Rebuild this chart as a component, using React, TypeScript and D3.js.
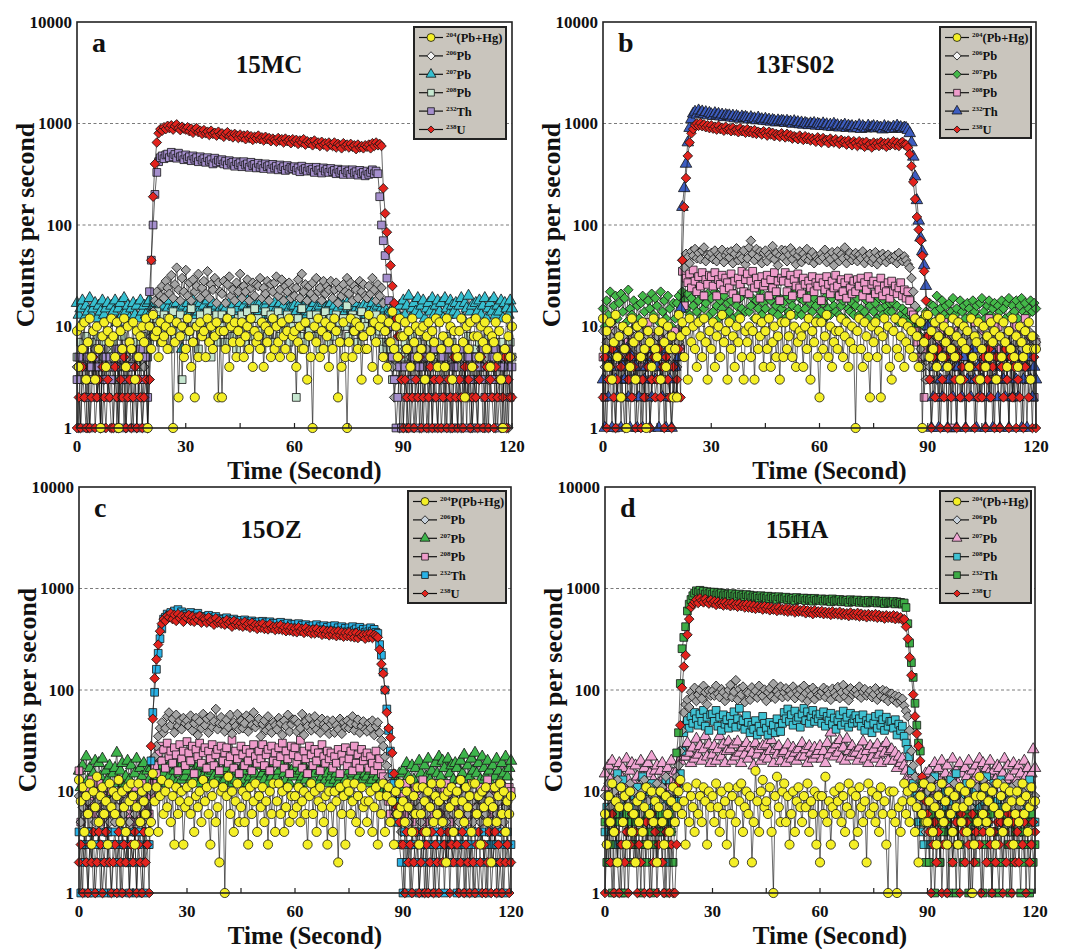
import React from "react";
import * as d3 from "d3";

// time axis: one reading every 0.5 s, 0..120 s (241 readings per series)
const seconds = d3.range(0, 120.5, 0.5);
const yTickValues = [1, 10, 100, 1000, 10000];
const xTickValues = [0, 30, 60, 90, 120];
const xMinorTicks = [0, 15, 30, 45, 60, 75, 90, 105, 120];
const gridValues = [10, 100, 1000];

// ---- a : 15MC ----
const mc204 = [
  9, 4, 10, 6, 11, 3, 7, 12, 5, 9, 3, 10, 6, 1, 8, 11, 4, 9, 7, 12,
  8, 5, 11, 1, 9, 6, 12, 4, 10, 7, 6, 11, 3, 9, 5, 8, 10, 7, 12, 1,
  10, 6, 13, 8, 9, 5, 11, 7, 8, 10, 6, 12, 9, 1, 7, 11, 2, 8, 10, 5,
  6, 12, 9, 4, 7, 2, 10, 5, 11, 8, 9, 5, 12, 7, 10, 6, 8, 11, 2, 9,
  2, 9, 6, 12, 4, 10, 7, 11, 5, 9, 7, 11, 5, 8, 10, 6, 12, 4, 9, 7,
  8, 6, 11, 4, 10, 7, 9, 5, 12, 6, 10, 7, 5, 11, 8, 6, 9, 12, 5, 8,
  9, 4, 7, 10, 6, 6, 11, 3, 8, 5, 1, 10, 7, 12, 5, 9, 6, 11, 8, 4,
  10, 6, 12, 9, 2, 7, 4, 11, 5, 1, 7, 12, 5, 9, 11, 6, 10, 3, 8, 6,
  6, 13, 9, 4, 11, 7, 3, 10, 12, 5, 9, 4, 11, 7, 14, 6, 10, 5, 12, 8,
  8, 11, 6, 9, 4, 12, 7, 10, 5, 9, 6, 10, 3, 8, 11, 5, 9, 7, 12, 4,
  11, 6, 8, 4, 12, 7, 10, 3, 9, 6, 5, 9, 12, 7, 2, 10, 6, 11, 4, 8,
  12, 8, 5, 10, 7, 11, 6, 9, 4, 8, 7, 11, 5, 9, 3, 1, 6, 12, 8, 5,
  10,
];
const mc206 = [
  4, 1, 5, 3, 6, 2, 1, 4, 5, 3, 6, 2, 4, 1, 5, 3, 6, 4, 2, 5,
  3, 5, 1, 4, 2, 6, 3, 1, 5, 4, 2, 6, 4, 1, 3, 5, 2, 4, 6, 1,
  3, 8, 14, 18, 22, 17, 20, 25, 19, 28, 24, 21, 32, 19, 26, 38, 23, 18, 30, 22,
  36, 20, 27, 18, 29, 22, 25, 33, 19, 24, 28, 21, 35, 19, 26, 23, 30, 17, 27, 22,
  21, 28, 17, 26, 31, 20, 23, 18, 27, 22, 33, 19, 25, 22, 29, 18, 24, 27, 20, 26,
  25, 30, 19, 24, 21, 28, 18, 26, 22, 27, 31, 20, 23, 29, 18, 25, 22, 27, 19, 24,
  20, 24, 29, 19, 33, 22, 26, 18, 25, 21, 27, 19, 30, 22, 24, 18, 28, 21, 25, 23,
  28, 19, 23, 27, 17, 24, 20, 26, 22, 30, 21, 27, 18, 25, 23, 19, 28, 22, 26, 20,
  19, 25, 21, 30, 23, 18, 26, 20, 24, 17, 12, 9, 7, 5, 4, 2, 3, 5, 1, 4,
  3, 6, 1, 4, 5, 2, 6, 3, 4, 1, 5, 2, 4, 6, 1, 3, 5, 2, 4, 6,
  5, 3, 6, 2, 4, 5, 1, 3, 6, 4, 2, 4, 1, 5, 3, 6, 2, 4, 1, 3,
  2, 5, 3, 6, 4, 1, 5, 3, 6, 4, 4, 1, 6, 3, 5, 2, 4, 6, 1, 5,
  5,
];
const mc207 = [
  17, 13, 15, 18, 12, 16, 14, 19, 13, 15, 17, 12, 16, 14, 18, 13, 15, 17, 12, 16,
  14, 18, 11, 15, 17, 13, 19, 14, 16, 12, 15, 17, 13, 16, 12, 18, 14, 16, 13, 17,
  18, 14, 16, 13, 17, 15, 19, 14, 16, 13, 15, 18, 12, 16, 14, 17, 13, 15, 6, 16,
  14, 17, 13, 15, 18, 12, 16, 14, 17, 13, 16, 14, 18, 13, 15, 17, 12, 16, 14, 15,
  13, 16, 15, 12, 17, 14, 16, 13, 15, 18, 17, 13, 16, 14, 18, 12, 15, 17, 13, 16,
  14, 17, 15, 13, 16, 18, 14, 15, 12, 17, 15, 13, 17, 14, 16, 12, 18, 15, 13, 16,
  16, 14, 12, 17, 15, 13, 16, 18, 14, 15, 13, 17, 15, 14, 16, 12, 17, 15, 13, 16,
  17, 14, 16, 13, 15, 18, 12, 16, 14, 17, 15, 13, 16, 14, 17, 12, 15, 13, 16, 14,
  16, 14, 13, 17, 15, 12, 16, 14, 17, 13, 15, 13, 11, 14, 12, 15, 10, 13, 16, 12,
  18, 13, 16, 20, 12, 15, 17, 14, 19, 13, 16, 18, 12, 15, 17, 14, 19, 13, 16, 18,
  14, 17, 12, 19, 15, 13, 18, 16, 14, 17, 13, 16, 19, 12, 17, 15, 20, 14, 16, 12,
  17, 14, 18, 13, 16, 19, 12, 15, 17, 14, 19, 13, 16, 14, 18, 12, 17, 15, 13, 18,
  15,
];
const mc208 = [
  5, 3, 7, 4, 6, 8, 3, 5, 7, 4, 6, 3, 8, 5, 4, 7, 3, 6, 5, 4,
  7, 4, 5, 3, 6, 8, 4, 5, 3, 7, 4, 6, 3, 7, 5, 4, 8, 3, 6, 5,
  7, 9, 12, 8, 14, 10, 7, 11, 13, 9, 12, 6, 10, 14, 8, 11, 9, 13, 3, 10,
  8, 12, 9, 15, 7, 11, 10, 6, 13, 9, 11, 8, 14, 10, 5, 12, 9, 13, 7, 10,
  13, 9, 7, 12, 10, 14, 8, 11, 6, 12, 9, 13, 11, 7, 14, 10, 8, 12, 15, 9,
  12, 9, 6, 11, 14, 8, 10, 13, 7, 11, 10, 14, 8, 12, 9, 11, 13, 7, 10, 12,
  9, 2, 12, 8, 15, 10, 7, 11, 9, 13, 11, 8, 13, 10, 6, 12, 9, 14, 10, 7,
  12, 10, 8, 13, 9, 11, 7, 12, 10, 16, 8, 11, 13, 9, 12, 7, 10, 14, 8, 11,
  10, 12, 9, 11, 8, 13, 10, 9, 7, 6, 5, 7, 4, 6, 3, 5, 4, 6, 3, 5,
  5, 7, 4, 6, 3, 8, 5, 4, 7, 3, 6, 4, 8, 5, 3, 7, 4, 6, 5, 3,
  7, 5, 4, 6, 8, 3, 5, 7, 4, 6, 4, 6, 3, 5, 7, 4, 8, 5, 3, 6,
  5, 3, 7, 4, 6, 5, 3, 8, 4, 6, 3, 6, 5, 4, 7, 3, 5, 6, 4, 7,
  5,
];
const mc232 = [
  3, 5, 1, 4, 6, 2, 5, 1, 4, 3, 5, 2, 4, 6, 1, 3, 5, 2, 4, 3,
  1, 4, 6, 2, 5, 3, 1, 4, 2, 6, 4, 1, 3, 5, 2, 6, 1, 3, 5, 2,
  22, 45, 100, 200, 330, 420, 460, 480, 450, 490, 500, 460, 520, 470, 495, 455, 510, 470, 480, 440,
  490, 450, 470, 430, 480, 445, 460, 420, 470, 435, 450, 415, 460, 425, 440, 400, 455, 410, 435, 420,
  440, 400, 425, 390, 430, 405, 415, 380, 420, 395, 410, 375, 420, 390, 400, 370, 415, 385, 395, 365,
  405, 370, 390, 360, 400, 375, 385, 355, 395, 365, 380, 350, 390, 360, 375, 345, 385, 355, 370, 360,
  375, 345, 365, 335, 380, 350, 360, 340, 370, 345, 355, 330, 370, 345, 350, 325, 365, 340, 355, 330,
  360, 335, 345, 320, 355, 330, 345, 315, 350, 330, 340, 315, 350, 325, 335, 310, 345, 320, 330, 305,
  340, 315, 330, 350, 320, 340, 320, 190, 100, 70, 50, 30, 18, 10, 5, 3, 1, 2, 4, 1,
  1, 4, 2, 6, 1, 3, 5, 1, 2, 4, 6, 1, 3, 5, 2, 4, 1, 6, 3, 1,
  4, 2, 5, 1, 3, 6, 2, 1, 4, 5, 1, 3, 6, 2, 4, 1, 5, 3, 1, 2,
  5, 1, 4, 3, 6, 2, 1, 4, 2, 5, 3, 6, 1, 2, 5, 4, 1, 3, 6, 2,
  4,
];
const mc238 = [
  1, 2, 1, 4, 2, 1, 3, 1, 2, 5, 1, 2, 3, 1, 4, 2, 1, 3, 2, 1,
  1, 4, 2, 1, 3, 2, 5, 1, 2, 3, 1, 2, 4, 1, 3, 2, 1, 2, 3, 1,
  3, 45, 190, 400, 650, 800, 880, 850, 920, 880, 950, 900, 960, 870, 940, 980, 900, 860, 930, 890,
  870, 920, 840, 890, 810, 870, 900, 820, 850, 790, 860, 800, 830, 770, 850, 790, 810, 760, 830, 780,
  800, 740, 790, 820, 750, 780, 730, 790, 760, 720, 780, 730, 760, 700, 770, 720, 750, 690, 740, 710,
  760, 700, 730, 680, 740, 700, 720, 670, 710, 690, 660, 720, 680, 700, 650, 710, 670, 690, 640, 700,
  660, 690, 630, 680, 650, 700, 620, 670, 640, 660, 610, 680, 630, 650, 600, 660, 620, 640, 590, 650,
  620, 600, 650, 580, 630, 610, 570, 640, 600, 620, 580, 630, 590, 610, 560, 620, 580, 600, 570, 610,
  590, 620, 570, 640, 600, 650, 610, 630, 600, 230, 130, 85, 57, 40, 25, 17, 12, 8, 5, 3,
  1, 3, 2, 1, 4, 2, 1, 3, 2, 5, 1, 2, 3, 1, 2, 4, 1, 3, 2, 1,
  3, 1, 2, 4, 1, 3, 2, 1, 5, 2, 1, 3, 2, 1, 4, 2, 3, 1, 2, 4,
  2, 1, 3, 5, 1, 2, 4, 1, 3, 2, 1, 4, 2, 3, 1, 2, 5, 1, 3, 2,
  2,
];

// ---- b : 13FS02 ----
const fs204 = [
  12, 6, 9, 4, 11, 3, 7, 13, 5, 8, 2, 10, 6, 1, 9, 4, 12, 7, 3, 10,
  8, 5, 11, 6, 1, 9, 7, 4, 12, 6, 5, 9, 3, 11, 7, 4, 10, 6, 8, 2,
  6, 2, 13, 8, 11, 5, 9, 3, 12, 7, 10, 6, 4, 11, 8, 5, 12, 7, 3, 9,
  6, 11, 4, 8, 10, 5, 13, 7, 9, 3, 11, 6, 8, 4, 10, 7, 12, 5, 3, 9,
  7, 10, 5, 9, 3, 12, 6, 8, 11, 4, 9, 6, 12, 4, 7, 10, 5, 8, 3, 11,
  5, 11, 6, 8, 13, 5, 10, 4, 7, 9, 8, 4, 10, 6, 12, 3, 9, 7, 11, 5,
  2, 11, 6, 8, 13, 5, 10, 4, 7, 9, 6, 9, 12, 5, 8, 11, 4, 7, 10, 6,
  1, 9, 12, 6, 4, 11, 8, 5, 2, 10, 7, 11, 5, 9, 2, 8, 12, 6, 10, 4,
  3, 9, 12, 6, 5, 8, 11, 4, 7, 10, 6, 9, 5, 12, 8, 4, 11, 1, 7, 13,
  13, 5, 9, 6, 11, 4, 8, 12, 5, 10, 7, 4, 9, 6, 12, 5, 8, 11, 3, 7,
  10, 6, 9, 4, 12, 5, 8, 7, 11, 3, 6, 10, 4, 8, 5, 11, 7, 9, 3, 12,
  8, 5, 11, 7, 4, 9, 6, 12, 5, 8, 4, 10, 7, 5, 9, 6, 11, 3, 8, 6,
  6,
];
const fs206 = [
  9, 4, 7, 5, 8, 3, 6, 9, 2, 7, 5, 8, 4, 6, 9, 3, 7, 5, 8, 2,
  6, 9, 3, 7, 4, 8, 5, 2, 7, 4, 8, 5, 3, 6, 9, 4, 7, 2, 5, 8,
  6, 4, 7, 10, 45, 38, 52, 48, 42, 55, 50, 58, 47, 53, 46, 56, 60, 44, 51, 49,
  53, 46, 56, 44, 51, 49, 57, 43, 50, 54, 48, 55, 42, 52, 59, 45, 50, 47, 56, 41,
  47, 60, 70, 52, 45, 58, 49, 55, 42, 53, 56, 44, 51, 48, 62, 46, 53, 40, 50, 57,
  48, 56, 44, 51, 59, 46, 53, 41, 50, 55, 43, 52, 47, 58, 45, 50, 54, 42, 49, 46,
  45, 52, 48, 57, 43, 50, 46, 54, 40, 49, 55, 44, 51, 47, 60, 42, 49, 53, 45, 50,
  53, 44, 51, 47, 55, 42, 49, 46, 52, 43, 47, 54, 41, 50, 45, 52, 48, 43, 51, 46,
  48, 45, 50, 42, 53, 46, 44, 49, 45, 41, 38, 30, 22, 16, 12, 8, 6, 4, 5, 3,
  8, 4, 7, 5, 9, 3, 6, 8, 4, 7, 5, 9, 3, 6, 8, 4, 7, 5, 9, 2,
  6, 8, 4, 7, 5, 9, 3, 6, 8, 5, 7, 3, 9, 5, 2, 6, 8, 4, 7, 5,
  4, 7, 5, 8, 3, 6, 9, 5, 2, 7, 8, 5, 6, 3, 7, 4, 9, 6, 5, 8,
  7,
];
const fs207 = [
  15, 10, 18, 13, 22, 11, 16, 20, 12, 17, 21, 14, 19, 11, 23, 15, 13, 18, 10, 16,
  12, 17, 20, 14, 9, 18, 15, 21, 13, 19, 16, 11, 22, 14, 18, 12, 20, 15, 10, 17,
  12, 17, 20, 14, 22, 18, 15, 21, 13, 19, 16, 23, 14, 18, 12, 20, 15, 17, 21, 13,
  19, 14, 22, 16, 12, 18, 15, 20, 13, 17, 14, 18, 12, 21, 16, 13, 19, 15, 22, 14,
  21, 14, 16, 19, 12, 18, 15, 22, 13, 17, 15, 20, 12, 18, 14, 21, 16, 13, 19, 15,
  17, 12, 20, 14, 18, 16, 22, 13, 15, 19, 13, 18, 15, 21, 12, 17, 14, 19, 16, 12,
  18, 14, 17, 12, 20, 15, 13, 19, 16, 14, 20, 13, 16, 18, 12, 21, 15, 14, 17, 13,
  16, 19, 13, 15, 22, 14, 18, 12, 16, 20, 14, 17, 12, 19, 15, 13, 18, 16, 14, 17,
  14, 17, 12, 16, 11, 13, 15, 12, 14, 11, 13, 9, 12, 10, 15, 11, 8, 12, 10, 14,
  13, 17, 11, 16, 14, 20, 12, 15, 18, 13, 16, 12, 17, 14, 19, 13, 15, 11, 18, 14,
  16, 12, 17, 15, 13, 18, 14, 16, 12, 17, 19, 14, 12, 16, 18, 13, 15, 17, 11, 16,
  14, 18, 15, 12, 17, 19, 13, 16, 14, 18, 12, 16, 19, 14, 17, 13, 15, 18, 14, 17,
  15,
];
const fs208 = [
  5, 2, 7, 4, 9, 3, 6, 1, 8, 4, 6, 10, 3, 5, 7, 2, 4, 8, 5, 3,
  7, 4, 9, 2, 6, 11, 5, 3, 8, 6, 4, 8, 6, 3, 10, 5, 7, 2, 9, 4,
  9, 5, 7, 6, 35, 16, 30, 27, 33, 24, 36, 28, 22, 31, 25, 34, 20, 29, 26, 32,
  31, 25, 34, 20, 29, 26, 32, 23, 30, 27, 24, 33, 21, 28, 19, 30, 26, 35, 22, 29,
  33, 21, 28, 35, 24, 30, 26, 19, 31, 25, 27, 32, 20, 29, 24, 34, 22, 28, 18, 30,
  28, 34, 22, 27, 32, 20, 29, 25, 33, 24, 21, 30, 26, 19, 28, 24, 31, 22, 27, 25,
  30, 18, 27, 23, 31, 26, 21, 28, 24, 32, 25, 20, 29, 22, 27, 19, 30, 24, 21, 28,
  22, 29, 25, 30, 20, 27, 23, 31, 19, 26, 28, 21, 26, 23, 30, 20, 25, 22, 27, 19,
  28, 22, 25, 21, 24, 27, 20, 23, 19, 22, 18, 14, 13, 9, 7, 5, 4, 6, 2, 5,
  8, 3, 6, 10, 4, 7, 2, 9, 5, 11, 6, 3, 8, 1, 5, 7, 4, 9, 3, 6,
  10, 5, 7, 4, 8, 3, 11, 6, 4, 2, 7, 9, 4, 6, 12, 5, 3, 8, 6, 10,
  5, 8, 3, 7, 4, 9, 6, 2, 10, 5, 7, 4, 9, 5, 12, 6, 3, 8, 5, 2,
  7,
];
const fs232 = [
  3, 1, 5, 2, 4, 1, 6, 3, 2, 5, 1, 4, 3, 6, 2, 1, 5, 3, 4, 1,
  2, 5, 1, 3, 4, 6, 1, 2, 5, 3, 4, 1, 3, 2, 5, 1, 6, 3, 1, 2,
  4, 2, 5, 15, 150, 230, 400, 650, 900, 1100, 1250, 1300, 1220, 1340, 1260, 1310, 1230, 1290, 1200, 1270,
  1230, 1180, 1260, 1200, 1240, 1170, 1220, 1150, 1210, 1180, 1200, 1140, 1190, 1120, 1180, 1150, 1110, 1170, 1130, 1160,
  1130, 1090, 1150, 1100, 1120, 1070, 1140, 1080, 1100, 1060, 1110, 1050, 1090, 1040, 1080, 1060, 1020, 1070, 1030, 1060,
  1050, 1010, 1060, 1020, 1040, 990, 1050, 1000, 1030, 980, 1020, 970, 1010, 990, 960, 1000, 970, 1010, 950, 990,
  975, 940, 1000, 950, 980, 930, 970, 920, 990, 940, 960, 910, 950, 930, 970, 900, 950, 920, 940, 890,
  930, 900, 960, 880, 940, 910, 890, 950, 900, 920, 940, 890, 930, 900, 910, 870, 940, 890, 920, 900,
  880, 930, 890, 950, 900, 920, 880, 910, 900, 860, 800, 650, 470, 300, 175, 110, 75, 55, 40, 25,
  10, 5, 1, 2, 4, 6, 1, 3, 2, 5, 4, 1, 3, 6, 2, 5, 1, 4, 3, 2,
  5, 1, 3, 4, 2, 6, 3, 1, 4, 2, 3, 5, 1, 4, 2, 6, 1, 3, 5, 2,
  1, 4, 3, 2, 5, 1, 6, 2, 4, 3, 2, 5, 1, 3, 4, 1, 5, 3, 2, 4,
  3,
];
const fs238 = [
  2, 5, 1, 3, 4, 6, 2, 1, 3, 5, 4, 2, 1, 6, 3, 5, 2, 4, 1, 3,
  5, 1, 3, 2, 6, 4, 1, 3, 5, 2, 3, 6, 2, 4, 1, 5, 3, 2, 1, 4,
  2, 3, 6, 2, 45, 150, 290, 480, 650, 800, 880, 960, 1000, 950, 1010, 940, 980, 920, 960, 900,
  960, 890, 930, 870, 950, 880, 910, 850, 930, 870, 890, 840, 910, 850, 870, 820, 900, 840, 860, 810,
  880, 820, 850, 800, 860, 790, 830, 810, 780, 840, 800, 760, 830, 780, 810, 750, 790, 770, 740, 800,
  760, 730, 790, 740, 770, 710, 750, 730, 700, 760, 720, 690, 750, 700, 730, 680, 720, 690, 660, 730,
  700, 650, 720, 680, 690, 640, 710, 670, 650, 700, 660, 630, 690, 650, 670, 620, 680, 640, 610, 670,
  640, 600, 670, 620, 650, 590, 660, 610, 630, 580, 650, 610, 640, 600, 660, 620, 640, 590, 650, 610,
  630, 670, 610, 650, 600, 640, 660, 620, 620, 580, 500, 380, 265, 180, 120, 90, 70, 50, 35, 18,
  8, 3, 1, 5, 2, 4, 6, 1, 3, 2, 5, 1, 4, 2, 6, 3, 1, 5, 2, 4,
  3, 1, 6, 2, 4, 5, 1, 3, 2, 4, 2, 5, 1, 3, 6, 2, 4, 1, 5, 3,
  1, 4, 2, 6, 3, 1, 5, 2, 4, 1, 3, 2, 5, 1, 4, 6, 2, 3, 1, 5,
  1,
];

// ---- c : 15OZ ----
const oz204 = [
  13, 8, 11, 4, 9, 6, 12, 3, 10, 7, 14, 5, 9, 11, 6, 8, 3, 12, 7, 10,
  6, 9, 13, 5, 10, 7, 4, 11, 8, 12, 9, 3, 7, 12, 5, 10, 8, 6, 11, 4,
  5, 15, 8, 11, 4, 9, 13, 6, 10, 7, 12, 5, 9, 3, 11, 6, 8, 10, 3, 7,
  11, 8, 6, 12, 4, 9, 7, 10, 5, 13, 8, 11, 6, 3, 9, 12, 5, 7, 2, 10,
  11, 1, 9, 14, 6, 10, 4, 8, 12, 5, 7, 10, 5, 9, 3, 11, 6, 8, 12, 4,
  9, 7, 11, 5, 8, 3, 10, 6, 12, 4, 8, 12, 6, 10, 4, 7, 11, 5, 9, 6,
  9, 7, 11, 5, 8, 10, 6, 3, 9, 12, 6, 10, 4, 8, 11, 7, 5, 9, 3, 10,
  7, 4, 10, 8, 2, 11, 6, 9, 3, 12, 10, 6, 8, 12, 5, 9, 4, 11, 7, 8,
  5, 8, 10, 4, 7, 11, 3, 9, 6, 12, 4, 9, 11, 5, 8, 3, 10, 6, 12, 7,
  8, 5, 10, 7, 13, 4, 9, 6, 11, 3, 6, 11, 8, 4, 10, 7, 12, 5, 9, 6,
  8, 12, 5, 9, 2, 10, 7, 11, 4, 8, 10, 6, 13, 8, 5, 11, 7, 9, 4, 12,
  12, 6, 9, 3, 10, 7, 11, 5, 8, 2, 7, 11, 5, 9, 12, 6, 10, 4, 8, 6,
  9,
];
const oz206 = [
  9, 5, 7, 3, 6, 8, 4, 2, 7, 5, 8, 3, 6, 9, 4, 7, 2, 5, 8, 6,
  5, 7, 4, 10, 3, 6, 8, 2, 5, 9, 4, 6, 9, 3, 7, 5, 2, 8, 6, 4,
  10, 15, 22, 28, 35, 42, 48, 38, 42, 55, 60, 45, 52, 38, 57, 44, 50, 41, 53, 47,
  50, 44, 56, 40, 47, 53, 36, 49, 42, 58, 45, 52, 38, 55, 43, 49, 65, 41, 47, 54,
  46, 39, 51, 43, 57, 37, 48, 44, 58, 41, 50, 42, 47, 56, 39, 52, 45, 60, 43, 48,
  52, 35, 46, 50, 40, 55, 43, 38, 48, 45, 41, 53, 47, 36, 50, 44, 57, 39, 46, 51,
  51, 39, 47, 42, 58, 36, 49, 44, 53, 40, 45, 55, 41, 48, 38, 52, 46, 43, 50, 37,
  46, 50, 38, 45, 41, 52, 37, 48, 43, 50, 42, 47, 55, 40, 46, 51, 38, 44, 49, 41,
  39, 47, 42, 50, 36, 44, 48, 38, 32, 28, 22, 18, 14, 12, 9, 8, 6, 7, 5, 4,
  7, 4, 8, 5, 9, 3, 6, 8, 4, 7, 5, 9, 3, 6, 8, 4, 10, 5, 7, 3,
  6, 9, 4, 7, 5, 10, 3, 8, 6, 4, 8, 5, 3, 7, 9, 4, 6, 2, 8, 5,
  4, 7, 9, 5, 3, 8, 6, 4, 9, 5, 7, 3, 6, 8, 4, 9, 5, 7, 3, 6,
  9,
];
const oz207 = [
  16, 11, 18, 9, 22, 13, 17, 10, 15, 20, 12, 19, 14, 21, 10, 16, 13, 18, 9, 15,
  17, 24, 12, 16, 19, 11, 14, 20, 13, 18, 10, 15, 21, 12, 17, 14, 19, 11, 16, 13,
  17, 12, 19, 14, 16, 13, 18, 15, 12, 17, 14, 19, 13, 16, 12, 18, 15, 13, 17, 14,
  16, 12, 19, 14, 13, 17, 15, 12, 18, 14, 13, 17, 15, 12, 16, 14, 18, 13, 15, 12,
  16, 13, 17, 12, 15, 19, 14, 13, 16, 12, 15, 18, 13, 16, 12, 14, 17, 13, 15, 18,
  18, 14, 15, 13, 17, 12, 16, 14, 19, 13, 14, 16, 12, 18, 15, 13, 17, 12, 16, 14,
  15, 17, 12, 16, 14, 18, 13, 15, 12, 17, 13, 15, 18, 12, 16, 14, 17, 13, 15, 12,
  14, 16, 13, 15, 12, 14, 11, 10, 13, 9, 16, 13, 15, 12, 17, 14, 12, 16, 13, 15,
  14, 12, 16, 13, 15, 11, 14, 12, 13, 10, 12, 10, 13, 9, 11, 14, 10, 12, 15, 11,
  16, 12, 19, 14, 10, 18, 13, 17, 11, 20, 15, 12, 18, 14, 21, 13, 16, 10, 19, 15,
  22, 14, 20, 17, 12, 21, 15, 18, 13, 19, 17, 13, 20, 15, 23, 12, 18, 14, 21, 16,
  24, 15, 19, 13, 22, 17, 14, 20, 16, 12, 18, 14, 21, 16, 13, 19, 15, 22, 14, 17,
  20,
];
const oz208 = [
  16, 5, 9, 7, 11, 4, 8, 13, 6, 10, 7, 12, 5, 9, 6, 11, 4, 8, 10, 6,
  9, 5, 13, 7, 4, 10, 8, 6, 11, 5, 8, 11, 6, 9, 5, 12, 7, 4, 10, 6,
  9, 12, 18, 15, 24, 28, 20, 26, 17, 30, 22, 25, 19, 27, 23, 16, 29, 21, 25, 18,
  31, 24, 20, 28, 15, 26, 22, 30, 19, 24, 27, 17, 25, 21, 29, 18, 23, 26, 16, 28,
  20, 24, 27, 19, 22, 32, 17, 25, 21, 15, 28, 23, 18, 26, 20, 24, 16, 29, 22, 19,
  25, 21, 29, 18, 23, 26, 16, 28, 20, 24, 19, 27, 22, 30, 17, 25, 21, 15, 28, 23,
  27, 19, 22, 32, 17, 25, 21, 15, 28, 23, 18, 26, 20, 24, 16, 29, 22, 19, 25, 21,
  24, 17, 22, 19, 26, 15, 23, 20, 27, 18, 21, 25, 16, 28, 19, 23, 17, 26, 20, 22,
  24, 17, 22, 19, 16, 25, 18, 21, 15, 14, 12, 9, 8, 6, 9, 5, 7, 6, 8, 5,
  9, 6, 12, 7, 10, 5, 8, 11, 6, 9, 7, 13, 5, 10, 8, 6, 11, 9, 7, 12,
  8, 6, 10, 7, 12, 9, 5, 11, 8, 6, 10, 7, 13, 6, 9, 11, 5, 8, 12, 7,
  6, 9, 7, 11, 5, 10, 8, 13, 6, 9, 11, 7, 9, 5, 12, 8, 10, 6, 9, 11,
  10,
];
const oz232 = [
  4, 1, 3, 2, 4, 1, 3, 4, 1, 2, 3, 4, 1, 3, 2, 1, 4, 3, 1, 3,
  4, 2, 3, 1, 4, 3, 2, 4, 1, 3, 2, 4, 1, 3, 4, 2, 1, 4, 3, 3,
  20, 60, 95, 160, 230, 320, 400, 500, 520, 560, 540, 580, 520, 600, 550, 620, 530, 590, 510, 560,
  560, 520, 580, 510, 545, 505, 570, 500, 530, 495, 530, 490, 545, 480, 515, 470, 530, 485, 505, 470,
  495, 465, 515, 455, 490, 450, 500, 460, 480, 445, 485, 450, 490, 440, 470, 435, 480, 445, 465, 430,
  470, 435, 475, 430, 460, 420, 470, 425, 455, 415, 455, 420, 465, 425, 445, 410, 455, 415, 440, 405,
  445, 410, 450, 400, 435, 405, 440, 395, 425, 400, 430, 395, 440, 400, 420, 390, 430, 395, 415, 385,
  425, 390, 430, 385, 410, 380, 420, 385, 405, 375, 410, 380, 420, 385, 400, 370, 415, 380, 395, 370,
  400, 375, 410, 380, 395, 370, 360, 280, 220, 150, 100, 65, 40, 25, 15, 12, 8, 5, 3, 2,
  1, 4, 2, 3, 1, 4, 3, 2, 4, 1, 3, 2, 4, 1, 3, 4, 2, 3, 1, 4,
  2, 3, 4, 1, 3, 2, 4, 3, 2, 4, 1, 3, 2, 4, 3, 1, 4, 2, 3, 1,
  4, 2, 1, 3, 4, 2, 3, 1, 4, 3, 2, 4, 3, 1, 2, 4, 1, 3, 4, 2,
  3,
];
const oz238 = [
  2, 3, 1, 4, 2, 1, 3, 2, 4, 1, 2, 4, 3, 1, 2, 4, 3, 2, 1, 2,
  3, 1, 4, 2, 1, 3, 2, 4, 1, 3, 2, 4, 1, 3, 2, 1, 4, 2, 3, 1,
  28, 52, 130, 200, 280, 380, 450, 500, 480, 540, 520, 570, 500, 550, 480, 560, 510, 540, 470, 530,
  510, 550, 480, 530, 470, 520, 490, 540, 460, 510, 500, 460, 520, 470, 490, 440, 510, 460, 480, 450,
  470, 440, 490, 450, 470, 420, 480, 440, 460, 430, 455, 420, 470, 430, 450, 410, 460, 420, 440, 400,
  440, 410, 450, 400, 430, 395, 445, 405, 420, 390, 425, 395, 435, 390, 415, 380, 420, 385, 410, 375,
  405, 370, 415, 380, 400, 365, 410, 375, 390, 360, 395, 360, 400, 365, 385, 350, 390, 355, 380, 345,
  385, 350, 375, 340, 380, 345, 370, 335, 365, 340, 370, 335, 360, 330, 365, 325, 355, 340, 350, 320,
  355, 330, 360, 325, 350, 340, 330, 250, 180, 145, 100, 60, 42, 34, 24, 15, 10, 7, 5, 3,
  3, 1, 4, 2, 3, 1, 2, 4, 3, 1, 2, 4, 1, 3, 1, 2, 4, 1, 3, 2,
  1, 4, 2, 3, 2, 4, 1, 3, 2, 4, 3, 1, 2, 4, 1, 3, 2, 1, 4, 2,
  1, 3, 4, 2, 1, 3, 1, 2, 4, 1, 2, 4, 1, 3, 2, 1, 4, 2, 3, 1,
  2,
];

// ---- d : 15HA ----
const ha204 = [
  6, 3, 9, 5, 12, 4, 8, 2, 7, 11, 5, 9, 3, 7, 10, 4, 6, 2, 8, 5,
  9, 4, 7, 11, 3, 6, 10, 5, 8, 2, 7, 10, 5, 3, 9, 6, 4, 8, 11, 5,
  7, 10, 13, 6, 8, 3, 11, 5, 9, 7, 4, 12, 6, 9, 5, 11, 8, 3, 10, 7,
  9, 5, 12, 7, 4, 10, 6, 8, 3, 11, 6, 9, 2, 5, 11, 8, 12, 4, 7, 10,
  6, 9, 2, 5, 16, 8, 4, 10, 13, 7, 8, 6, 11, 4, 1, 9, 14, 7, 5, 10,
  12, 5, 9, 3, 6, 10, 4, 8, 11, 7, 5, 9, 7, 12, 4, 8, 6, 10, 3, 9,
  2, 9, 6, 14, 5, 8, 3, 7, 10, 6, 8, 11, 5, 9, 4, 7, 12, 6, 10, 3,
  9, 4, 11, 7, 5, 8, 2, 12, 6, 10, 7, 5, 9, 4, 11, 6, 8, 3, 1, 10,
  6, 10, 5, 1, 7, 4, 8, 12, 6, 10, 5, 8, 11, 4, 7, 2, 9, 6, 12, 5,
  5, 8, 11, 4, 7, 3, 9, 6, 12, 5, 8, 3, 10, 6, 4, 9, 7, 3, 11, 5,
  7, 10, 4, 8, 12, 1, 3, 9, 5, 14, 9, 6, 11, 5, 8, 4, 10, 7, 3, 12,
  6, 9, 4, 11, 7, 5, 10, 8, 3, 6, 10, 5, 8, 12, 6, 9, 4, 7, 11, 8,
  8,
];
const ha206 = [
  9, 5, 12, 7, 4, 10, 6, 13, 8, 5, 11, 7, 9, 4, 12, 6, 10, 8, 5, 9,
  6, 10, 13, 5, 8, 11, 4, 9, 7, 12, 8, 5, 11, 7, 14, 6, 9, 4, 10, 7,
  14, 18, 25, 40, 60, 72, 80, 68, 95, 85, 105, 78, 90, 100, 82, 110, 95, 72, 98, 88,
  98, 88, 110, 92, 85, 102, 95, 78, 88, 100, 112, 85, 96, 125, 80, 102, 90, 108, 76, 95,
  93, 80, 106, 90, 98, 84, 110, 92, 87, 101, 78, 95, 104, 86, 115, 82, 97, 90, 108, 85,
  95, 104, 86, 99, 91, 108, 83, 97, 90, 102, 84, 110, 93, 78, 100, 88, 105, 81, 96, 90,
  88, 96, 105, 85, 99, 92, 80, 103, 94, 87, 107, 83, 95, 112, 86, 98, 79, 104, 90, 96,
  100, 90, 108, 84, 96, 102, 88, 93, 98, 85, 91, 104, 80, 95, 87, 100, 83, 97, 78, 92,
  92, 80, 88, 75, 86, 78, 82, 70, 62, 55, 40, 25, 18, 14, 11, 9, 8, 6, 5, 4,
  10, 6, 13, 8, 4, 11, 7, 9, 5, 12, 8, 6, 10, 4, 9, 12, 7, 5, 11, 8,
  6, 10, 4, 9, 7, 12, 5, 8, 11, 6, 9, 13, 5, 8, 11, 4, 10, 7, 12, 6,
  5, 9, 12, 6, 10, 8, 4, 11, 7, 9, 12, 7, 4, 10, 8, 6, 11, 5, 9, 7,
  9,
];
const ha207 = [
  15, 11, 18, 13, 20, 10, 16, 12, 19, 14, 17, 11, 21, 13, 16, 19, 12, 18, 14, 11,
  20, 14, 17, 12, 19, 15, 22, 13, 16, 18, 12, 16, 19, 14, 11, 17, 13, 20, 15, 12,
  16, 14, 20, 22, 25, 22, 30, 24, 19, 27, 21, 33, 23, 28, 20, 26, 35, 22, 29, 19,
  23, 28, 20, 26, 35, 22, 29, 19, 25, 31, 26, 20, 29, 22, 31, 24, 19, 27, 23, 30,
  21, 27, 24, 18, 30, 23, 26, 20, 28, 22, 29, 21, 25, 32, 19, 26, 23, 28, 20, 24,
  25, 19, 29, 23, 21, 27, 24, 20, 26, 22, 30, 22, 26, 19, 28, 24, 21, 27, 23, 25,
  28, 21, 25, 19, 30, 23, 38, 26, 22, 29, 24, 32, 21, 27, 20, 33, 25, 22, 28, 24,
  24, 20, 27, 23, 31, 21, 25, 19, 28, 22, 26, 21, 29, 23, 19, 27, 24, 30, 20, 25,
  26, 20, 24, 17, 22, 19, 21, 18, 16, 14, 14, 13, 15, 12, 11, 13, 10, 12, 11, 15,
  12, 16, 10, 14, 19, 11, 17, 13, 20, 12, 15, 18, 11, 14, 21, 13, 16, 12, 19, 15,
  11, 17, 14, 20, 12, 16, 13, 18, 15, 21, 14, 19, 12, 17, 15, 20, 11, 16, 13, 18,
  17, 12, 15, 21, 13, 18, 14, 11, 19, 16, 13, 18, 15, 12, 20, 14, 17, 13, 15, 26,
  17,
];
const ha208 = [
  4, 7, 2, 9, 5, 12, 3, 15, 6, 8, 13, 5, 10, 4, 7, 3, 9, 6, 11, 5,
  8, 14, 6, 3, 10, 7, 12, 5, 9, 4, 6, 11, 4, 8, 13, 5, 2, 9, 7, 10,
  8, 12, 15, 25, 38, 45, 50, 42, 55, 47, 60, 52, 45, 58, 49, 63, 44, 54, 40, 57,
  58, 49, 63, 44, 54, 40, 57, 46, 51, 42, 55, 47, 61, 43, 52, 66, 45, 50, 41, 56,
  48, 38, 45, 41, 50, 36, 44, 39, 55, 47, 42, 36, 48, 40, 45, 38, 52, 43, 39, 47,
  60, 52, 65, 49, 57, 45, 62, 50, 54, 43, 58, 66, 50, 61, 47, 55, 63, 49, 57, 52,
  58, 47, 61, 44, 55, 50, 59, 46, 53, 41, 50, 57, 45, 62, 48, 54, 43, 59, 47, 52,
  56, 48, 52, 44, 57, 40, 50, 46, 53, 38, 47, 55, 42, 58, 45, 51, 40, 54, 44, 49,
  49, 42, 51, 36, 46, 40, 44, 35, 30, 26, 22, 16, 12, 9, 7, 5, 4, 6, 3, 9,
  6, 11, 3, 8, 14, 5, 9, 2, 12, 7, 10, 4, 8, 13, 6, 9, 15, 3, 7, 11,
  5, 9, 12, 4, 8, 6, 10, 3, 7, 9, 11, 6, 8, 14, 5, 10, 7, 12, 4, 8,
  7, 13, 5, 9, 11, 6, 8, 4, 10, 6, 9, 5, 12, 7, 4, 10, 6, 13, 8, 5,
  5,
];
const ha232 = [
  5, 2, 6, 3, 1, 4, 6, 2, 5, 1, 3, 1, 6, 4, 2, 5, 3, 6, 2, 4,
  1, 5, 3, 2, 6, 4, 1, 3, 5, 2, 4, 6, 2, 5, 1, 3, 6, 4, 2, 5,
  24, 38, 116, 255, 330, 420, 600, 700, 780, 850, 900, 950, 920, 960, 900, 940, 880, 930, 890, 920,
  880, 920, 860, 910, 870, 900, 850, 890, 860, 880, 850, 890, 840, 870, 830, 880, 840, 860, 820, 870,
  830, 860, 810, 850, 820, 840, 800, 850, 810, 830, 800, 840, 790, 830, 800, 820, 780, 830, 790, 810,
  790, 820, 770, 810, 780, 800, 760, 815, 775, 795, 780, 805, 760, 800, 770, 790, 750, 800, 765, 780,
  765, 790, 750, 785, 760, 775, 740, 790, 750, 770, 755, 780, 740, 770, 745, 765, 730, 775, 740, 760,
  745, 770, 730, 760, 735, 755, 720, 765, 730, 745, 735, 760, 720, 750, 725, 745, 710, 750, 720, 735,
  720, 745, 705, 740, 715, 730, 700, 720, 650, 450, 290, 186, 133, 74, 45, 30, 25, 12, 5, 2,
  5, 2, 6, 4, 1, 3, 5, 2, 6, 4, 3, 5, 1, 6, 2, 4, 1, 5, 3, 6,
  2, 4, 6, 1, 5, 3, 6, 2, 4, 5, 4, 1, 3, 5, 2, 6, 1, 4, 3, 2,
  1, 5, 2, 4, 6, 3, 1, 5, 2, 4, 6, 3, 1, 4, 2, 5, 3, 1, 6, 2,
  3,
];
const ha238 = [
  1, 3, 5, 2, 6, 1, 4, 2, 1, 3, 5, 2, 4, 1, 3, 6, 2, 4, 1, 3,
  2, 4, 1, 5, 3, 1, 6, 2, 4, 1, 3, 5, 2, 1, 4, 6, 1, 3, 1, 1,
  3, 12, 45, 105, 170, 220, 350, 500, 650, 700, 740, 780, 720, 800, 760, 730, 790, 740, 710, 770,
  720, 750, 690, 740, 700, 720, 680, 730, 690, 710, 670, 720, 680, 700, 660, 710, 670, 690, 650, 700,
  650, 690, 640, 680, 630, 670, 640, 660, 620, 670, 630, 660, 610, 650, 620, 640, 600, 650, 610, 630,
  600, 640, 590, 630, 600, 620, 580, 630, 590, 610, 590, 620, 570, 610, 580, 600, 560, 610, 575, 595,
  570, 600, 560, 590, 565, 585, 550, 595, 560, 580, 555, 590, 545, 575, 550, 570, 535, 580, 545, 565,
  540, 575, 530, 565, 535, 555, 520, 560, 530, 550, 525, 560, 515, 550, 520, 540, 505, 545, 515, 535,
  510, 545, 500, 535, 505, 520, 490, 500, 420, 320, 210, 140, 90, 55, 37, 28, 20, 14, 12, 8,
  6, 4, 1, 3, 5, 2, 4, 6, 1, 3, 5, 1, 3, 6, 2, 4, 5, 3, 1, 6,
  4, 2, 5, 3, 1, 6, 2, 4, 5, 3, 1, 4, 6, 2, 5, 3, 1, 4, 2, 5,
  3, 5, 1, 4, 2, 6, 3, 1, 5, 2, 4, 2, 6, 3, 5, 1, 4, 2, 3, 5,
  4,
];

type Sym = "circle" | "diamond" | "triangle" | "square";
type Series = { sup: string; name: string; values: number[]; sym: Sym; fill: string; legendFill?: string };
type PanelDef = {
  letter: string;
  title: string;
  left: number; right: number; top: number; bottom: number;
  legend: { x: number; y: number; w: number; h: number };
  series: Series[];
};

const FONT = "'Liberation Serif', 'Times New Roman', serif";
const YELLOW = "#f4ef26";
const GRAY = "#a4a4a4";
const RED = "#e2231d";

const panels: PanelDef[] = [
  {
    letter: "a", title: "15MC", left: 77, right: 512, top: 22, bottom: 428,
    legend: { x: 414, y: 27, w: 92, h: 112 },
    series: [
      { sup: "204", name: "(Pb+Hg)", values: mc204, sym: "circle", fill: YELLOW },
      { sup: "206", name: "Pb", values: mc206, sym: "diamond", fill: GRAY, legendFill: "#f4f4f4" },
      { sup: "207", name: "Pb", values: mc207, sym: "triangle", fill: "#36bfd0" },
      { sup: "208", name: "Pb", values: mc208, sym: "square", fill: "#c6e7d0" },
      { sup: "232", name: "Th", values: mc232, sym: "square", fill: "#a58fcd" },
      { sup: "238", name: "U", values: mc238, sym: "diamond", fill: RED },
    ],
  },
  {
    letter: "b", title: "13FS02", left: 603, right: 1036, top: 22, bottom: 428,
    legend: { x: 940, y: 27, w: 91, h: 111 },
    series: [
      { sup: "204", name: "(Pb+Hg)", values: fs204, sym: "circle", fill: YELLOW },
      { sup: "206", name: "Pb", values: fs206, sym: "diamond", fill: GRAY, legendFill: "#f4f4f4" },
      { sup: "207", name: "Pb", values: fs207, sym: "diamond", fill: "#44b949" },
      { sup: "208", name: "Pb", values: fs208, sym: "square", fill: "#ef9ccb" },
      { sup: "232", name: "Th", values: fs232, sym: "triangle", fill: "#3d5dc1" },
      { sup: "238", name: "U", values: fs238, sym: "diamond", fill: RED },
    ],
  },
  {
    letter: "c", title: "15OZ", left: 79, right: 511, top: 487, bottom: 893,
    legend: { x: 408, y: 491, w: 98, h: 112 },
    series: [
      { sup: "204", name: "P(Pb+Hg)", values: oz204, sym: "circle", fill: YELLOW },
      { sup: "206", name: "Pb", values: oz206, sym: "diamond", fill: GRAY, legendFill: "#c8d2dc" },
      { sup: "207", name: "Pb", values: oz207, sym: "triangle", fill: "#3db44b" },
      { sup: "208", name: "Pb", values: oz208, sym: "square", fill: "#ef9ccb" },
      { sup: "232", name: "Th", values: oz232, sym: "square", fill: "#2ab2e6" },
      { sup: "238", name: "U", values: oz238, sym: "diamond", fill: RED },
    ],
  },
  {
    letter: "d", title: "15HA", left: 605, right: 1035, top: 487, bottom: 893,
    legend: { x: 940, y: 491, w: 91, h: 112 },
    series: [
      { sup: "204", name: "(Pb+Hg)", values: ha204, sym: "circle", fill: YELLOW },
      { sup: "206", name: "Pb", values: ha206, sym: "diamond", fill: GRAY, legendFill: "#c8d2dc" },
      { sup: "207", name: "Pb", values: ha207, sym: "triangle", fill: "#f0a6d3" },
      { sup: "208", name: "Pb", values: ha208, sym: "square", fill: "#3fc2d3" },
      { sup: "232", name: "Th", values: ha232, sym: "square", fill: "#3dac46" },
      { sup: "238", name: "U", values: ha238, sym: "diamond", fill: RED },
    ],
  },
];

// order in which the series are painted (204 on top)
const drawOrder = [2, 3, 1, 4, 5, 0];

function symbolPath(sym: Sym, scale = 1): string {
  const gen = d3.symbol();
  if (sym === "circle") return gen.type(d3.symbolCircle).size(66 * scale)() as string;
  if (sym === "triangle") return gen.type(d3.symbolTriangle).size(58 * scale)() as string;
  if (sym === "diamond") return gen.type(d3.symbolSquare).size(46 * scale)() as string;
  return gen.type(d3.symbolSquare).size(60 * scale)() as string;
}

function Marker({ sym, x, y, fill, scale = 1 }: { sym: Sym; x: number; y: number; fill: string; scale?: number }) {
  const rot = sym === "diamond" ? " rotate(45)" : "";
  return (
    <path
      d={symbolPath(sym, scale)}
      transform={`translate(${x.toFixed(1)},${y.toFixed(1)})${rot}`}
      fill={fill}
      stroke="#151515"
      strokeWidth={0.8}
    />
  );
}

function Panel({ p }: { p: PanelDef }) {
  const x = d3.scaleLinear().domain([0, 120]).range([p.left, p.right]);
  const y = d3.scaleLog().domain([1, 10000]).range([p.bottom, p.top]);
  const line = d3
    .line<number>()
    .x((_, i) => x(seconds[i]))
    .y((v) => y(Math.max(1, v)));
  const midY = (p.top + p.bottom) / 2;

  return (
    <g fontFamily={FONT} fontWeight="bold">
      {gridValues.map((g) => (
        <line key={g} x1={p.left} x2={p.right} y1={y(g)} y2={y(g)} stroke="#7a7a7a" strokeWidth={1} strokeDasharray="3,2.5" />
      ))}

      {drawOrder.map((si) => {
        const s = p.series[si];
        return (
          <g key={si}>
            <path d={line(s.values) as string} fill="none" stroke="#111" strokeWidth={0.7} strokeOpacity={0.9} />
            {s.values.map((v, i) => (
              <Marker key={i} sym={s.sym} x={x(seconds[i])} y={y(Math.max(1, v))} fill={s.fill} />
            ))}
          </g>
        );
      })}

      <rect x={p.left} y={p.top} width={p.right - p.left} height={p.bottom - p.top} fill="none" stroke="#222" strokeWidth={1.6} />
      {xMinorTicks.map((t) => (
        <line key={t} x1={x(t)} x2={x(t)} y1={p.bottom} y2={p.bottom - 5} stroke="#222" strokeWidth={1.2} />
      ))}

      {yTickValues.map((v) => (
        <text key={v} x={p.left - 5} y={y(v)} textAnchor="end" dominantBaseline="central" fontSize={17} fill="#111">
          {v}
        </text>
      ))}
      {xTickValues.map((t) => (
        <text key={t} x={x(t)} y={p.bottom + 24} textAnchor="middle" fontSize={17} fill="#111">
          {t}
        </text>
      ))}

      <text x={(p.left + p.right) / 2 + 10} y={p.bottom + 51} textAnchor="middle" fontSize={25} fill="#111">
        Time (Second)
      </text>
      <text
        transform={`translate(${p.left - 52},${midY}) rotate(-90)`}
        textAnchor="middle"
        dominantBaseline="central"
        fontSize={26}
        fill="#111"
      >
        Counts per second
      </text>

      <text x={p.left + 15} y={p.top + 30} fontSize={28} fill="#111">{p.letter}</text>
      <text x={p.left + 192} y={p.top + 51} textAnchor="middle" fontSize={25} fill="#111">{p.title}</text>

      <g>
        <rect x={p.legend.x} y={p.legend.y} width={p.legend.w} height={p.legend.h} fill="#c9c5bd" stroke="#222" strokeWidth={2} />
        {p.series.map((s, i) => {
          const ry = p.legend.y + 10.5 + i * 18.4;
          const lx = p.legend.x;
          return (
            <g key={i}>
              <line x1={lx + 5} x2={lx + 29} y1={ry} y2={ry} stroke="#111" strokeWidth={1.2} />
              <Marker sym={s.sym} x={lx + 17} y={ry} fill={s.legendFill ?? s.fill} scale={s.sym === "diamond" && i === 5 ? 0.55 : 0.75} />
              <text x={lx + 32} y={ry + 4.5} fontSize={12.5} fill="#111">
                <tspan fontSize={7} dy={-5}>{s.sup}</tspan>
                <tspan dy={5}>{s.name}</tspan>
              </text>
            </g>
          );
        })}
      </g>
    </g>
  );
}

export default function App() {
  return (
    <svg width={1072} height={949} viewBox="0 0 1072 949" style={{ position: "absolute", left: 0, top: 0, background: "#fff" }}>
      <rect width={1072} height={949} fill="#fff" />
      {panels.map((p) => (
        <Panel key={p.letter} p={p} />
      ))}
    </svg>
  );
}
